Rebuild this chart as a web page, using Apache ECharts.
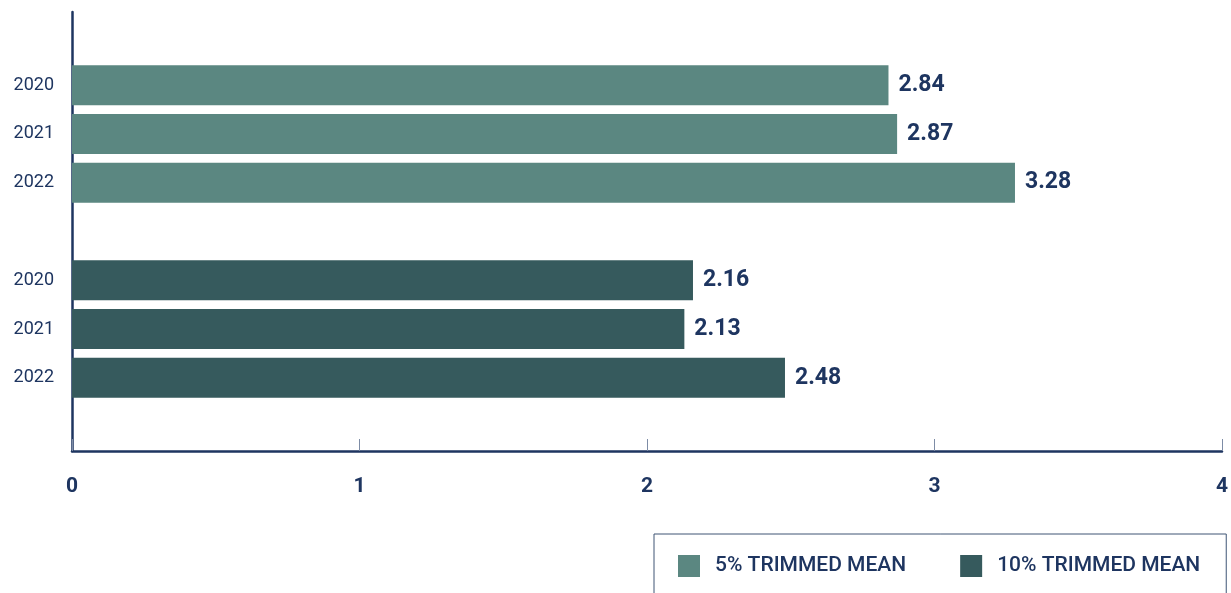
<!DOCTYPE html>
<html>
<head>
<meta charset="utf-8">
<title>Trimmed mean</title>
<script src="https://cdn.jsdelivr.net/npm/echarts@6/dist/echarts.min.js"></script>
<style>
  html, body { margin: 0; padding: 0; background: #ffffff; }
  #chart { width: 1231px; height: 593px; }
</style>
</head>
<body>
<div id="chart"></div>
<script>
// Row slots on the category axis (blank slots pad and separate the two groups)
const categories = ['', '2020', '2021', '2022', '', '2020', '2021', '2022', ''];
const trimmed5 = ['-', 2.84, 2.87, 3.28, '-', '-', '-', '-', '-'];
const trimmed10 = ['-', '-', '-', '-', '-', 2.16, 2.13, 2.48, '-'];
const xTicks = [0, 1, 2, 3, 4];
const seriesNames = ['5% TRIMMED MEAN', '10% TRIMMED MEAN'];

const NAVY = '#1e3560';
const LIGHT = '#5b8781';
const DARK = '#365a5d';

const chart = echarts.init(document.getElementById('chart'));

const valueLabel = {
  show: true,
  position: 'right',
  distance: 10,
  color: NAVY,
  fontFamily: 'Roboto',
  fontWeight: 'bold',
  fontSize: 23,
  formatter: p => p.value.toFixed(2)
};

chart.setOption({
  animation: false,
  grid: { left: 72, right: 9, top: 12, height: 439, containLabel: false },
  legend: {
    left: 654,
    top: 534,
    data: seriesNames,
    icon: 'rect',
    itemWidth: 22,
    itemHeight: 22,
    itemGap: 54,
    padding: [21, 26, 40, 24],
    borderColor: '#3e5475',
    borderWidth: 1,
    textStyle: {
      color: NAVY,
      fontFamily: 'Roboto',
      fontWeight: 500,
      fontSize: 21,
      padding: [0, 0, 0, 10]
    }
  },
  xAxis: {
    type: 'value',
    min: xTicks[0],
    max: xTicks[xTicks.length - 1],
    interval: 1,
    axisLine: { show: true, lineStyle: { color: NAVY, width: 2.5 } },
    axisTick: { show: true, inside: true, length: 12, lineStyle: { color: '#7d8ca6', width: 1 } },
    splitLine: { show: false },
    axisLabel: {
      margin: 25,
      color: NAVY,
      fontFamily: 'Roboto',
      fontWeight: 'bold',
      fontSize: 21
    }
  },
  yAxis: {
    type: 'category',
    inverse: true,
    data: categories,
    axisLine: { show: true, lineStyle: { color: NAVY, width: 2.5 } },
    axisTick: { show: false },
    axisLabel: {
      margin: 18,
      color: NAVY,
      fontFamily: 'Roboto',
      fontSize: 18
    }
  },
  series: [
    {
      name: seriesNames[0],
      type: 'bar',
      data: trimmed5,
      barWidth: 40,
      barGap: '-100%',
      itemStyle: { color: LIGHT },
      label: valueLabel
    },
    {
      name: seriesNames[1],
      type: 'bar',
      data: trimmed10,
      barWidth: 40,
      barGap: '-100%',
      itemStyle: { color: DARK },
      label: valueLabel
    }
  ]
});
</script>
</body>
</html>
